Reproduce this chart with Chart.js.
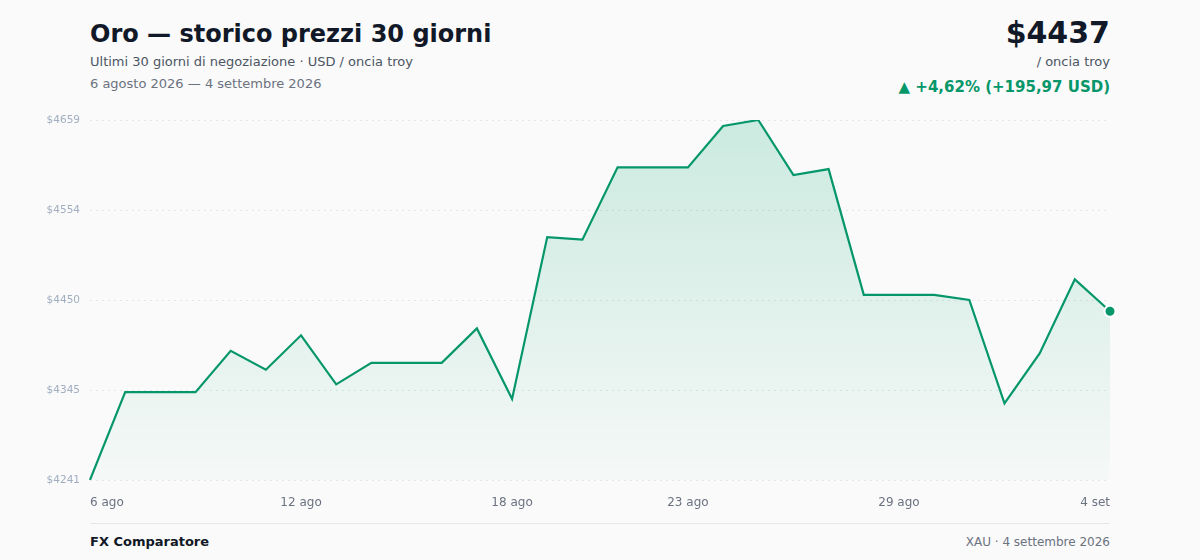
<!DOCTYPE html>
<html lang="it">
<head>
<meta charset="utf-8">
<title>Oro — storico prezzi 30 giorni</title>
<script src="https://cdn.jsdelivr.net/npm/chart.js@4"></script>
<style>
  html, body { margin: 0; padding: 0; background: #fafafa; }
  body { width: 1200px; height: 560px; position: relative; overflow: hidden;
         font-family: "DejaVu Sans", sans-serif; }
  .t { position: absolute; white-space: nowrap; }
  #title { left: 90px; top: 20px; font-size: 24px; font-weight: bold; color: #111827; }
  #sub { left: 90px; top: 54px; font-size: 13px; color: #4b5563; }
  #range { left: 90px; top: 76px; font-size: 13px; color: #6b7280; }
  #price { right: 90px; top: 15px; font-size: 30px; font-weight: bold; color: #111827; }
  #unit { right: 90px; top: 54px; font-size: 13px; color: #4b5563; }
  #chg { right: 90px; top: 78px; font-size: 15px; font-weight: bold; color: #059669; }
  #chartBox { position: absolute; left: 0; top: 100px; width: 1200px; height: 420px; }
  #rule { position: absolute; left: 90px; top: 523px; width: 1020px; height: 1px; background: #e5e7eb; }
  #brand { left: 90px; top: 534px; font-size: 13px; font-weight: bold; color: #111827; }
  #src { right: 90px; top: 535px; font-size: 12px; color: #6b7280; }
</style>
</head>
<body>
<div class="t" id="title">Oro — storico prezzi 30 giorni</div>
<div class="t" id="sub">Ultimi 30 giorni di negoziazione · USD / oncia troy</div>
<div class="t" id="range">6 agosto 2026 — 4 settembre 2026</div>
<div class="t" id="price">$4437</div>
<div class="t" id="unit">/ oncia troy</div>
<div class="t" id="chg">▲ +4,62% (+195,97 USD)</div>
<div id="chartBox"><canvas id="goldChart"></canvas></div>
<div id="rule"></div>
<div class="t" id="brand">FX Comparatore</div>
<div class="t" id="src">XAU · 4 settembre 2026</div>

<script>
/* ── Dati ─────────────────────────────────────────────────────────────── */
const days = ['6 ago', '7 ago', '8 ago', '9 ago', '10 ago', '11 ago', '12 ago', '13 ago',
  '14 ago', '15 ago', '16 ago', '17 ago', '18 ago', '19 ago', '20 ago', '21 ago', '22 ago',
  '23 ago', '24 ago', '25 ago', '26 ago', '27 ago', '28 ago', '29 ago', '30 ago', '31 ago',
  '1 set', '2 set', '3 set', '4 set'];
const prices = [4241.03, 4343, 4343, 4343, 4391, 4369, 4409, 4352, 4377, 4377, 4377, 4417,
  4335, 4523, 4520, 4604, 4604, 4604, 4652, 4659, 4595, 4602, 4456, 4456, 4456, 4450,
  4330, 4388, 4474, 4437];
const shownDays = ['6 ago', '12 ago', '18 ago', '23 ago', '29 ago', '4 set'];
const yTicks = [4241, 4345, 4450, 4554, 4659];

/* ── Grafico ──────────────────────────────────────────────────────────── */
const GREEN = '#059669';
const ctx = document.getElementById('goldChart').getContext('2d');

function areaFill(context) {
  const area = context.chart.chartArea;
  if (!area) return 'rgba(5,150,105,0.1)';
  const g = context.chart.ctx.createLinearGradient(0, area.top, 0, area.bottom);
  g.addColorStop(0, 'rgba(16,170,120,0.2)');
  g.addColorStop(1, 'rgba(16,170,120,0.02)');
  return g;
}

const lastIdx = prices.length - 1;

new Chart(ctx, {
  type: 'line',
  data: {
    labels: days,
    datasets: [{
      data: prices,
      borderColor: GREEN,
      borderWidth: 2.2,
      backgroundColor: areaFill,
      fill: 'start',
      tension: 0,
      pointRadius: c => c.dataIndex === lastIdx ? 5.5 : 0,
      pointBackgroundColor: GREEN,
      pointBorderColor: '#ffffff',
      pointBorderWidth: 2,
      pointHoverRadius: 0
    }]
  },
  options: {
    responsive: true,
    maintainAspectRatio: false,
    animation: false,
    layout: { padding: { top: 20, right: 90, left: 0, bottom: 0 } },
    plugins: { legend: { display: false }, tooltip: { enabled: false } },
    scales: {
      x: {
        grid: { display: false },
        border: { display: false },
        afterFit: s => { s.height = 40; },
        ticks: {
          autoSkip: false,
          maxRotation: 0,
          align: 'inner',
          padding: 8,
          color: '#6b7280',
          font: { family: 'DejaVu Sans', size: 12 },
          callback: function (v) {
            const l = this.getLabelForValue(v);
            return shownDays.includes(l) ? l : '';
          }
        }
      },
      y: {
        min: yTicks[0],
        max: yTicks[yTicks.length - 1],
        afterFit: s => { s.width = 90; },
        afterBuildTicks: s => { s.ticks = yTicks.map(v => ({ value: v })); },
        border: { display: false, dash: [2, 4] },
        grid: {
          color: '#e2e5ea',
          lineWidth: 1,
          drawTicks: false
        },
        ticks: {
          padding: 10,
          color: '#a0aec0',
          font: { family: 'DejaVu Sans', size: 10.5 },
          callback: v => '$' + Math.round(v)
        }
      }
    }
  }
});
</script>
</body>
</html>
